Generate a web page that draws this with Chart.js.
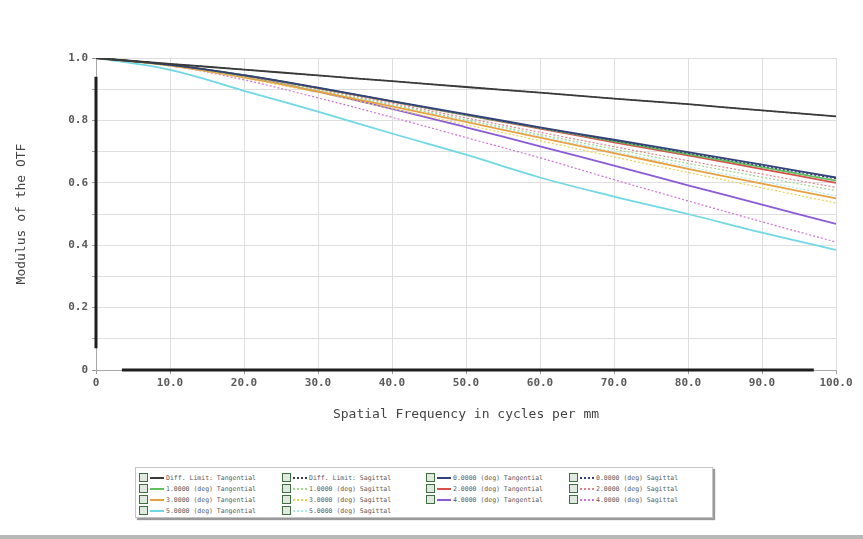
<!DOCTYPE html>
<html>
<head>
<meta charset="utf-8">
<script src="https://cdn.jsdelivr.net/npm/chart.js@4/dist/chart.umd.min.js"></script>
<style>
    body { margin: 0; background: #fff; }
    #wrap { position: relative; width: 863px; height: 539px; overflow: hidden; background: #fff; }
    #chartBox { position: absolute; left: 0; top: 0; width: 863px; height: 430px; }
    #legend {
        position: absolute; left: 135px; top: 467px; width: 578px; height: 51px;
        border: 1px solid #c4c4c4; box-shadow: 2px 2px 1px #9a9a9a;
        display: grid; grid-template-columns: 143px 144px 143px 143px;
        grid-auto-rows: 11px; padding: 4px 0 0 3px; box-sizing: border-box;
        font-family: "DejaVu Sans Mono", monospace; font-size: 6.5px; color: #5a5a5a;
    }
    .item { display: flex; align-items: center; white-space: nowrap; }
    .box { width: 7px; height: 7px; border: 1px solid #3f6f3f; background: #dfe9df; margin-right: 2px; }
    .sample { width: 14px; height: 0; margin-right: 2px; }
    #bottomBar { position: absolute; left: 0; top: 535px; width: 863px; height: 4px; background: #b8b8b8; }
</style>
</head>
<body>
<div id="wrap">
    <div id="chartBox"><canvas id="mtf"></canvas></div>
    <div id="legend"></div>
    <div id="bottomBar"></div>
</div>
<script>
(function () {
    "use strict";

    // Data
    const freq = [0, 10, 20, 30, 40, 50, 60, 70, 80, 90, 100];

    const diffT = [1, 0.981, 0.963, 0.944, 0.926, 0.907, 0.889, 0.870, 0.852, 0.832, 0.813];
    const diffS = [1, 0.981, 0.963, 0.944, 0.926, 0.907, 0.889, 0.870, 0.852, 0.832, 0.813];
    const f0T = [1, 0.978, 0.945, 0.905, 0.862, 0.820, 0.778, 0.738, 0.698, 0.658, 0.617];
    const f0S = [1, 0.978, 0.944, 0.904, 0.861, 0.818, 0.776, 0.735, 0.695, 0.654, 0.613];
    const f1T = [1, 0.978, 0.945, 0.904, 0.861, 0.818, 0.776, 0.734, 0.692, 0.650, 0.607];
    const f1S = [1, 0.977, 0.940, 0.897, 0.850, 0.802, 0.755, 0.708, 0.662, 0.618, 0.575];
    const f2T = [1, 0.978, 0.944, 0.903, 0.860, 0.817, 0.774, 0.730, 0.688, 0.644, 0.600];
    const f2S = [1, 0.977, 0.942, 0.900, 0.855, 0.808, 0.762, 0.716, 0.671, 0.628, 0.585];
    const f3T = [1, 0.976, 0.938, 0.893, 0.845, 0.795, 0.745, 0.695, 0.645, 0.597, 0.550];
    const f3S = [1, 0.975, 0.935, 0.889, 0.838, 0.786, 0.735, 0.683, 0.633, 0.584, 0.535];
    const f4T = [1, 0.978, 0.942, 0.892, 0.837, 0.778, 0.717, 0.655, 0.592, 0.530, 0.468];
    const f4S = [1, 0.975, 0.930, 0.872, 0.810, 0.745, 0.680, 0.610, 0.542, 0.475, 0.410];
    const f5T = [1, 0.962, 0.895, 0.828, 0.758, 0.690, 0.617, 0.556, 0.500, 0.440, 0.385];
    const f5S = [1, 0.976, 0.940, 0.897, 0.850, 0.800, 0.750, 0.700, 0.652, 0.605, 0.558];

    const seriesLabels = [
        "Diff. Limit: Tangential", "Diff. Limit: Sagittal",
        "0.0000 (deg) Tangential", "0.0000 (deg) Sagittal",
        "1.0000 (deg) Tangential", "1.0000 (deg) Sagittal",
        "2.0000 (deg) Tangential", "2.0000 (deg) Sagittal",
        "3.0000 (deg) Tangential", "3.0000 (deg) Sagittal",
        "4.0000 (deg) Tangential", "4.0000 (deg) Sagittal",
        "5.0000 (deg) Tangential", "5.0000 (deg) Sagittal",
    ];
    const seriesValues = [diffT, diffS, f0T, f0S, f1T, f1S, f2T, f2S, f3T, f3S, f4T, f4S, f5T, f5S];
    const seriesColors = [
        "#3a3a3a", "#3a3a3a",
        "#34407a", "#34407a",
        "#5cc05c", "#9ad88a",
        "#d8504a", "#e0808a",
        "#e8a040", "#e8d050",
        "#8a5ad8", "#d070d8",
        "#6fd8e4", "#a8ecf2",
    ];

    const xTicks = [0, 10, 20, 30, 40, 50, 60, 70, 80, 90, 100];
    const yTicks = [0, 0.2, 0.4, 0.6, 0.8, 1.0];

    const monoFont = "'DejaVu Sans Mono', monospace";

    const datasets = seriesValues.map((vals, i) => ({
        label: seriesLabels[i],
        data: vals.map((v, j) => ({ x: freq[j], y: v })),
        borderColor: seriesColors[i],
        borderWidth: i % 2 === 0 ? 1.8 : 1.2,
        borderDash: i % 2 === 0 ? [] : [2, 2],
        pointRadius: 0,
        tension: 0.4,
        fill: false,
    }));

    // thick dark bars drawn over the axes, as in the reference
    const axisBars = {
        id: "axisBars",
        afterDatasetsDraw(chart) {
            const { ctx, scales: { x, y }, chartArea } = chart;
            ctx.save();
            ctx.strokeStyle = "#1e1e1e";
            ctx.lineWidth = 3;
            ctx.beginPath();
            ctx.moveTo(chartArea.left, y.getPixelForValue(0.94));
            ctx.lineTo(chartArea.left, y.getPixelForValue(0.07));
            ctx.moveTo(x.getPixelForValue(3.5), chartArea.bottom);
            ctx.lineTo(x.getPixelForValue(97), chartArea.bottom);
            ctx.stroke();
            ctx.restore();
        },
    };

    const ctx = document.getElementById("mtf").getContext("2d");
    new Chart(ctx, {
        type: "line",
        data: { datasets },
        plugins: [axisBars],
        options: {
            responsive: true,
            maintainAspectRatio: false,
            animation: false,
            layout: { padding: { left: 0, top: 58, right: 27, bottom: 8 } },
            plugins: {
                legend: { display: false },
                tooltip: { enabled: false },
            },
            scales: {
                x: {
                    type: "linear",
                    min: 0,
                    max: 100,
                    afterBuildTicks: (s) => { s.ticks = xTicks.map((v) => ({ value: v })); },
                    afterFit: (s) => { s.height = 52; },
                    grid: { color: "#dedede", tickLength: 4, tickColor: "#999" },
                    border: { color: "#a8a8a8", width: 1 },
                    ticks: {
                        color: "#5a5a5a",
                        font: { family: monoFont, size: 11, weight: "bold" },
                        padding: 3,
                        maxRotation: 0,
                        callback: (v) => (v === 0 ? "0" : v.toFixed(1)),
                    },
                    title: {
                        display: true,
                        text: "Spatial Frequency in cycles per mm",
                        color: "#444",
                        font: { family: monoFont, size: 13 },
                        padding: { top: 0, bottom: 0 },
                    },
                },
                y: {
                    min: 0,
                    max: 1,
                    afterFit: (s) => { s.width = 96; },
                    ticks: {
                        stepSize: 0.1,
                        color: "#5a5a5a",
                        font: { family: monoFont, size: 11, weight: "bold" },
                        padding: 4,
                        callback: (v) => {
                            const r = Math.round(v * 10) / 10;
                            if (!yTicks.some((t) => Math.abs(t - r) < 1e-6)) return "";
                            return r === 0 ? "0" : r.toFixed(1);
                        },
                    },
                    grid: { color: "#dedede", tickLength: 4, tickColor: "#999" },
                    border: { color: "#a8a8a8", width: 1 },
                    title: {
                        display: true,
                        text: "Modulus of the OTF",
                        color: "#444",
                        font: { family: monoFont, size: 13 },
                        padding: { top: 14, bottom: 0 },
                    },
                },
            },
        },
    });

    // Legend (4 columns, row-major like the original)
    const legend = document.getElementById("legend");
    seriesLabels.forEach((label, i) => {
        const item = document.createElement("div");
        item.className = "item";
        const box = document.createElement("span");
        box.className = "box";
        const sample = document.createElement("span");
        sample.className = "sample";
        sample.style.borderTop = (i % 2 === 0 ? "2px solid " : "2px dotted ") + seriesColors[i];
        const text = document.createElement("span");
        text.textContent = label;
        item.append(box, sample, text);
        legend.appendChild(item);
    });
})();
</script>
</body>
</html>
